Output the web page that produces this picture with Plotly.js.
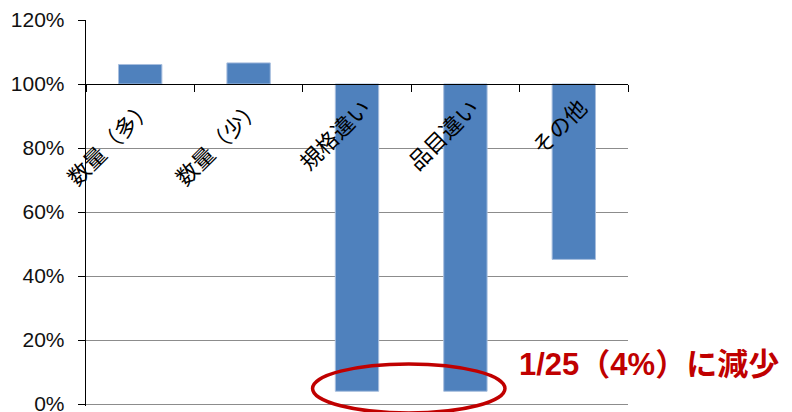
<!DOCTYPE html>
<html>
<head>
<meta charset="utf-8">
<script src="https://cdn.plot.ly/plotly-3.0.1.min.js"></script>
<style>html,body{margin:0;padding:0;background:#fff;}#chart{width:792px;height:412px;}</style>
</head>
<body>
<div id="chart"></div>
<script>
// Data (percent of baseline, baseline = 100%)
const categories = ["数量（多）", "数量（少）", "規格違い", "品目違い", "その他"];
const values = [106.1, 106.6, 4.0, 4.0, 45.2];
const baseline = 100;
const yTickVals = [0, 20, 40, 60, 80, 100, 120];
const yTickText = ["0%", "20%", "40%", "60%", "80%", "100%", "120%"];
const noteText = "1/25（4%）に減少";

const latin = "Liberation Sans, Arial, Noto Sans CJK JP, sans-serif";
const jp = "Noto Sans CJK JP, sans-serif";
const yMin = -0.6, yMax = 120;

const trace = {
  type: "bar",
  x: categories,
  y: values.map(v => v - baseline),
  base: values.map(() => baseline),
  width: 0.4,
  marker: {color: "#4F81BD", line: {color: "#A7BEDE", width: 1}},
  hoverinfo: "skip",
  showlegend: false
};

const layout = {
  width: 792, height: 412,
  margin: {l: 86, r: 164, t: 20, b: 6, pad: 0},
  paper_bgcolor: "#ffffff", plot_bgcolor: "#ffffff",
  showlegend: false,
  xaxis: {
    type: "category",
    anchor: "free",
    position: (baseline - yMin) / (yMax - yMin),
    showline: true, linecolor: "#000000", linewidth: 1.3,
    ticks: "outside", tickson: "boundaries", ticklen: 7, tickcolor: "#000000", tickwidth: 1,
    tickangle: -45,
    tickfont: {family: jp, size: 22, color: "#000000"},
    ticklabelstandoff: 1,
    ticklabelshift: 7,
    ticklabeloverflow: "allow",
    showgrid: false, zeroline: false, fixedrange: true
  },
  yaxis: {
    range: [yMin, yMax],
    tickmode: "array", tickvals: yTickVals, ticktext: yTickText,
    showgrid: true, gridcolor: "#8C8C8C", gridwidth: 1,
    showline: true, linecolor: "#000000", linewidth: 1.3,
    ticks: "outside", ticklen: 7, tickcolor: "#000000", tickwidth: 1,
    tickfont: {family: latin, size: 21, color: "#111111"},
    ticklabelstandoff: 9,
    ticklabeloverflow: "allow",
    zeroline: false, fixedrange: true
  },
  shapes: [{
    type: "circle", xref: "paper", yref: "paper",
    x0: 0.418, x1: 0.773, y0: -0.018, y1: 0.109,
    line: {color: "#C00000", width: 3.5},
    fillcolor: "rgba(0,0,0,0)"
  }],
  annotations: [{
    xref: "paper", yref: "paper", x: 0.796, y: 0.107,
    xanchor: "left", yanchor: "middle", showarrow: false,
    text: "<b>" + noteText + "</b>",
    font: {family: latin, size: 31, color: "#C00000"}
  }]
};

Plotly.newPlot("chart", [trace], layout, {staticPlot: true, displayModeBar: false});
</script>
</body>
</html>
